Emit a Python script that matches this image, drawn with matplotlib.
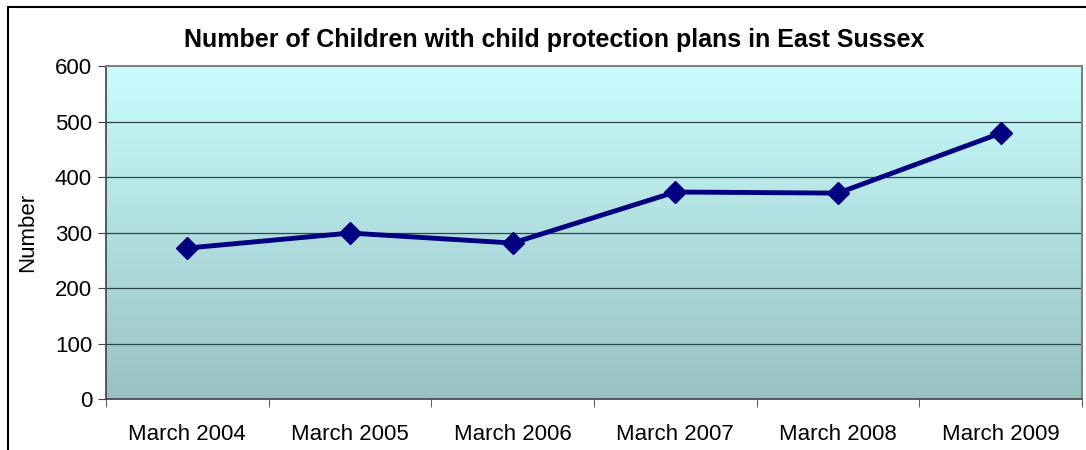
import numpy as np
import matplotlib.pyplot as plt
from matplotlib.colors import LinearSegmentedColormap
from matplotlib.patches import Rectangle

plt.rcParams['font.family'] = ['Liberation Sans', 'DejaVu Sans']

periods = ["March 2004", "March 2005", "March 2006",
           "March 2007", "March 2008", "March 2009"]
children = [272, 299, 281, 373, 371, 479]
y_ticks = [0, 100, 200, 300, 400, 500, 600]

fig = plt.figure(figsize=(10.86, 4.5), dpi=100)
ax = fig.add_axes([0.0976, 0.1133, 0.8987, 0.74])

# outer chart frame (runs off the right/bottom edge like the original)
fig.patches.append(Rectangle((8 / 1086, -0.1), 1.2, 1 - 7 / 450 + 0.1,
                             transform=fig.transFigure, fill=False,
                             edgecolor="black", linewidth=1.5, zorder=0))

n = len(periods)
xs = np.arange(n)

# gradient plot background
cmap = LinearSegmentedColormap.from_list("bg", ["#99c1c1", "#c9fdfd"])
grad = np.linspace(0, 1, 256).reshape(-1, 1)
ax.imshow(grad, cmap=cmap, aspect="auto", origin="lower",
          extent=[-0.5, n - 0.5, 0, 600], zorder=0)

for v in y_ticks[1:-1]:
    ax.axhline(v, color="#2f4646", linewidth=0.9, zorder=1)

ax.plot(xs, children, color="#000080", linewidth=3.5, marker="D",
        markersize=11, zorder=3)

ax.set_xlim(-0.5, n - 0.5)
ax.set_ylim(0, 600)
ax.set_yticks(y_ticks)
ax.set_xticks(xs)
ax.set_xticklabels(periods)
ax.set_xticks(np.arange(-0.5, n, 1), minor=True)
ax.tick_params(axis="x", which="major", length=0, pad=18, labelsize=16)
ax.tick_params(axis="x", which="minor", length=6, color="#404040")
ax.tick_params(axis="y", length=6, pad=4, labelsize=16, color="#404040")

for side in ["top", "right"]:
    ax.spines[side].set_color("#808080")
    ax.spines[side].set_linewidth(1.5)
for side in ["left", "bottom"]:
    ax.spines[side].set_color("#404040")
    ax.spines[side].set_linewidth(1.2)

ax.set_ylabel("Number", fontsize=16, labelpad=12)
fig.text(554 / 1086, 1 - 40 / 450,
         "Number of Children with child protection plans in East Sussex",
         fontsize=18, fontweight="bold", ha="center", va="center")

fig.savefig("out.png", dpi=100)
